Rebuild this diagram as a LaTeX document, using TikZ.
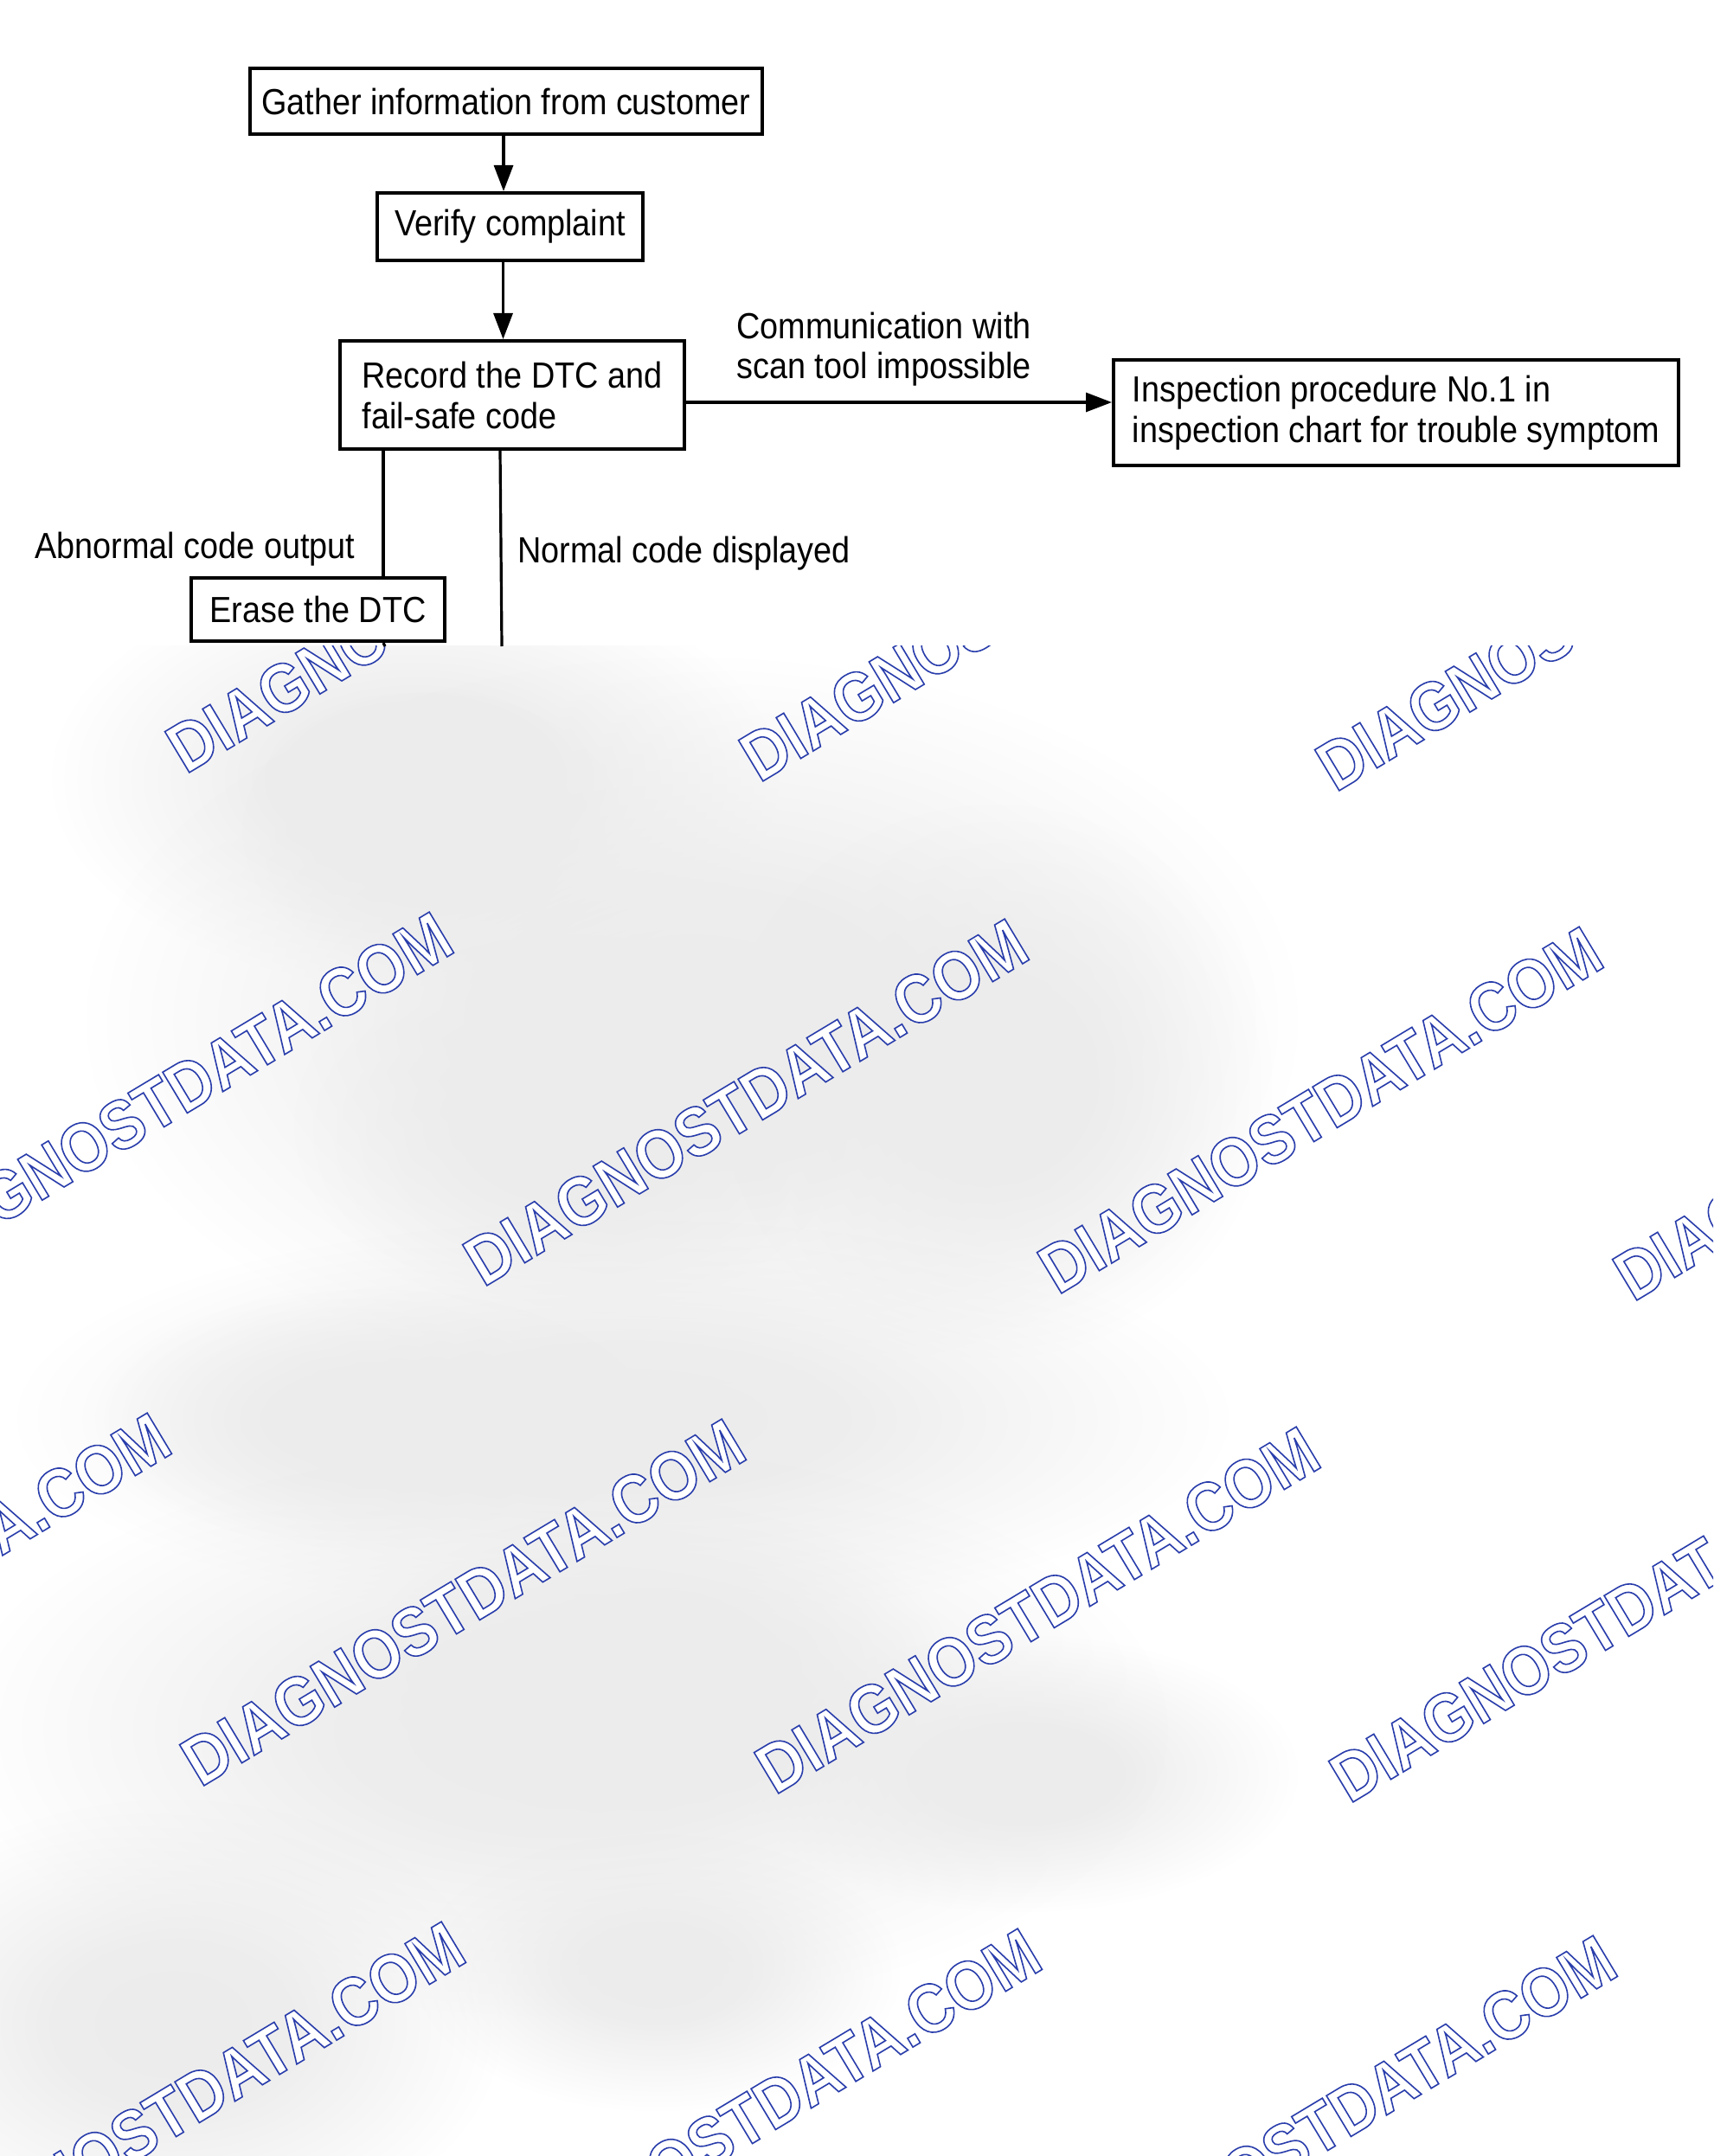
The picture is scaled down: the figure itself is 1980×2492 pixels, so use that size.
\documentclass[tikz,border=0pt]{standalone}
\usepackage{fontspec}
\setmainfont{Liberation Sans}[FakeStretch=0.9]
\newfontfamily\wmfont{Liberation Sans}[FakeStretch=0.88]
\usetikzlibrary{arrows.meta,calc,fadings}
\pgfdeclareradialshading{blobsh}{\pgfpointorigin}{color(0bp)=(white); color(9bp)=(white!92!black); color(25bp)=(black); color(50bp)=(black)}
\pgfdeclarefading{blobfade}{\pgfuseshading{blobsh}}
\newcommand\wmtxt{{\wmfont\bfseries\fontsize{40}{40}\selectfont\color{white}\special{pdf:literal direct 2 Tr 0.8 w 0.16 0.24 0.67 RG}DIAGNOSTDATA.COM\special{pdf:literal direct 0 Tr}}}
\tikzset{
  box/.style={draw, line width=2pt, inner sep=0pt, font=\fontsize{21}{23.5}\selectfont, align=left},
  lbl/.style={inner sep=0pt, font=\fontsize{21}{23}\selectfont, align=left, anchor=west},
  conn/.style={line width=1.6pt},
  arr/.style={conn, -{Triangle[length=15pt, width=11pt]}},
  blob/.style={fill=gray!15, path fading=blobfade},
  wm/.style={inner sep=0pt, rotate=31}
}
\begin{document}
\begin{tikzpicture}[x=0.5pt, y=-0.5pt]
\useasboundingbox (0,0) rectangle (1980,2492);
\fill[white] (0,0) rectangle (1980,2492);
% blurred grey background
\begin{scope}
\clip (0,746) rectangle (1980,2492);
\fill[blob] (480,900) ellipse [x radius=420, y radius=240];
\fill[blob] (500,960) ellipse [x radius=220, y radius=160];
\fill[blob] (800,1180) ellipse [x radius=700, y radius=420];
\fill[blob] (660,1300) ellipse [x radius=320, y radius=220];
\fill[blob] (1150,1250) ellipse [x radius=320, y radius=320];
\fill[blob] (720,1640) ellipse [x radius=700, y radius=230];
\fill[blob] (430,1640) ellipse [x radius=320, y radius=150];
\fill[blob] (760,1930) ellipse [x radius=340, y radius=190];
\fill[blob] (1180,2050) ellipse [x radius=320, y radius=160];
\fill[blob] (650,2000) ellipse [x radius=700, y radius=330];
\fill[blob] (200,2340) ellipse [x radius=380, y radius=260];
\fill[blob] (760,2280) ellipse [x radius=280, y radius=160];
% watermarks
\foreach \cx/\cy [count=\i] in {518/681,1181/691,1847/702,197/1266,862/1274,1526/1283,2191/1291,-129/1845,535/1852,1199/1861,1863/1871,211/2433,877/2441,1542/2449,2207/2457}
  \node[wm] (wm\i) at (\cx,\cy) {\wmtxt};
\end{scope}
% flowchart
\node[box, minimum width=296pt, minimum height=38pt] (gather) at (585,117) {Gather information from customer};
\node[box, minimum width=153.5pt, minimum height=39pt] (verify) at (589.5,262) {Verify complaint};
\node[box, minimum width=199pt, minimum height=62.5pt] (record) at (592,456.5) {Record the DTC and\\fail-safe code};
\node[box, minimum width=326.5pt, minimum height=61pt] (insp) at (1613.5,477) {Inspection procedure No.1 in\\inspection chart for trouble symptom};
\node[box, minimum width=146.5pt, minimum height=36.5pt] (erase) at (367.5,704.5) {Erase the DTC};
\node[lbl] (comm) at (851,404) {Communication with\\scan tool impossible};
\node[lbl] (abn) at (40,635) {Abnormal code output};
\node[lbl] (norm) at (598,640) {Normal code displayed};
\coordinate (cut1) at (445,747);
\coordinate (cut2) at (580,747);
\draw[arr] ($(gather.south)+(-3,0)$) -- ($(gather.south |- verify.north)+(-3,0)$);
\draw[arr] ($(verify.south)+(-8,0)$) -- ($(verify.south |- record.north)+(-8,0)$);
\draw[arr] ($(record.east)+(0,8.5)$) -- ($(insp.west |- record.east)+(0,8.5)$);
\draw[conn] ($(record.south west)+(52,0)$) -- ($(erase.north west)+(224,0)$);
\draw[conn] ($(erase.south west)+(224,0)$) -- (cut1);
\draw[conn] ($(record.south west)+(187,0)$) -- (cut2);
\end{tikzpicture}
\end{document}
